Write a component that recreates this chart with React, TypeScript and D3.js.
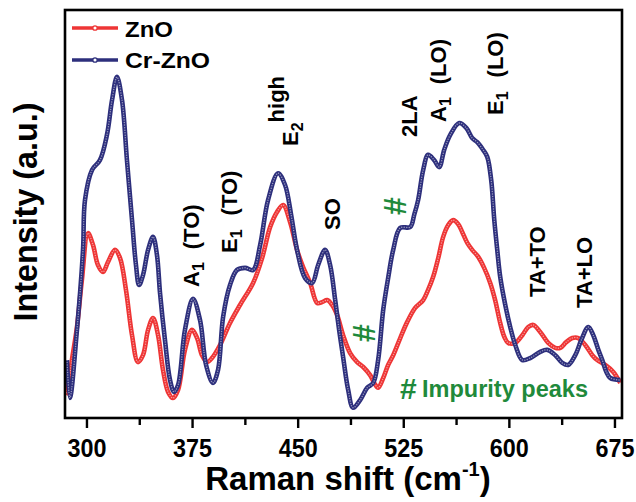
import React from "react";
import * as d3 from "d3";

const znoShift = [285.1, 286.5, 289.3, 292.9, 296.4, 300.7, 304.3, 307.8, 311.4, 314.9, 319.9, 323.5, 327.7, 332.0, 336.2, 339.8, 343.4, 346.9, 350.5, 354.0, 357.6, 361.1, 364.7, 369.6, 374.6, 378.2, 381.7, 385.3, 388.8, 394.5, 401.6, 408.7, 418.0, 424.4, 430.1, 435.0, 439.3, 444.3, 449.2, 453.5, 458.5, 463.5, 467.0, 470.6, 474.1, 477.7, 481.9, 486.9, 491.9, 496.2, 501.1, 504.0, 506.8, 510.4, 513.9, 517.5, 522.5, 527.4, 533.1, 538.8, 542.3, 545.9, 549.5, 553.0, 556.6, 560.1, 563.7, 566.5, 570.1, 573.6, 577.9, 582.1, 586.4, 589.9, 593.5, 596.4, 599.2, 604.2, 609.2, 613.4, 617.0, 621.9, 627.6, 632.6, 636.2, 640.4, 644.7, 648.9, 653.9, 658.9, 662.4, 668.1, 673.8, 678.8];
const znoIntensity = [5.6, 7.4, 14.2, 22.3, 33.8, 45.3, 42.4, 37.5, 35.8, 38.2, 41.2, 39.2, 31.4, 20.3, 13.7, 15.4, 21.6, 24.5, 20.3, 11.8, 6.4, 4.9, 6.9, 16.7, 21.6, 19.6, 15.4, 13.7, 14.7, 17.9, 23.3, 27.7, 33.1, 39.2, 46.8, 50.5, 52.2, 48.0, 41.2, 37.0, 33.1, 28.2, 28.4, 28.9, 27.7, 25.2, 20.3, 15.9, 13.7, 12.5, 10.5, 8.6, 7.4, 9.8, 13.0, 15.4, 19.6, 23.5, 27.0, 28.9, 31.4, 34.6, 39.2, 44.4, 47.3, 48.5, 47.5, 45.6, 42.9, 41.2, 39.5, 36.8, 33.1, 28.9, 23.3, 19.9, 18.4, 18.4, 20.3, 22.3, 22.8, 21.1, 18.4, 17.2, 17.2, 18.6, 19.6, 19.6, 17.9, 15.4, 14.2, 13.0, 11.3, 8.6];

const crShift = [285.8, 287.9, 292.9, 297.2, 298.6, 303.6, 309.2, 314.2, 317.8, 321.3, 324.9, 328.4, 332.0, 334.8, 337.0, 339.8, 343.4, 346.9, 349.7, 351.9, 355.4, 359.0, 361.8, 364.7, 369.6, 375.3, 380.3, 384.6, 389.5, 393.1, 396.7, 401.6, 406.6, 412.3, 418.0, 423.0, 428.6, 435.7, 440.7, 445.0, 449.2, 454.9, 459.9, 464.2, 469.1, 472.7, 476.3, 479.1, 481.9, 485.5, 489.0, 494.0, 499.0, 503.3, 506.8, 510.4, 513.9, 517.5, 522.5, 529.6, 532.4, 535.2, 538.8, 542.3, 546.6, 550.2, 553.7, 558.0, 564.4, 569.4, 573.6, 577.2, 581.4, 584.3, 587.1, 589.3, 591.4, 593.5, 597.1, 600.6, 604.2, 609.2, 614.8, 621.9, 626.9, 632.6, 637.6, 641.8, 646.8, 651.1, 656.1, 659.6, 663.2, 666.0, 668.9, 671.7, 678.8];
const crIntensity = [14.2, 4.9, 21.6, 41.2, 53.4, 60.8, 63.2, 69.4, 77.9, 83.6, 77.9, 63.2, 48.5, 37.5, 32.6, 35.0, 41.2, 44.4, 40.0, 30.6, 19.1, 9.3, 6.4, 8.1, 21.6, 29.2, 24.0, 13.0, 8.6, 11.8, 24.8, 32.6, 36.3, 36.8, 36.3, 42.4, 53.4, 60.0, 57.1, 49.8, 41.2, 34.3, 33.1, 37.5, 41.2, 37.5, 28.9, 21.6, 15.0, 6.9, 2.5, 4.4, 7.4, 8.6, 14.2, 26.5, 34.3, 41.2, 46.6, 46.8, 49.8, 53.4, 60.8, 64.5, 63.2, 61.5, 65.7, 69.4, 72.3, 71.1, 68.6, 67.6, 65.7, 64.0, 58.3, 48.5, 41.2, 34.6, 27.7, 22.3, 17.9, 14.2, 14.7, 16.2, 16.7, 15.4, 13.5, 13.0, 15.4, 19.1, 22.3, 20.3, 16.7, 14.2, 11.3, 9.8, 9.3];

const majorTicks = [300, 375, 450, 525, 600, 675];
const minorTicks = [337.5, 412.5, 487.5, 562.5, 637.5];
const seriesNames = ["ZnO", "Cr-ZnO"];
const seriesColors = ["#ee3535", "#2d2f7c"];

const FONT = "Arial, 'Liberation Sans', sans-serif";

type Part = { t: string; sub?: boolean; sup?: boolean; dx?: number };

function VLabel({ x, y, parts, size = 22 }: { x: number; y: number; parts: Part[]; size?: number }) {
  let shift = 0;
  return (
    <text transform={`translate(${x},${y}) rotate(-90)`} fontFamily={FONT} fontWeight="bold" fontSize={size} fill="#000">
      {parts.map((p, i) => {
        const target = p.sub ? 5 : p.sup ? -14 : 0;
        const dy = target - shift;
        shift = target;
        return (
          <tspan key={i} dy={dy} dx={p.dx || 0} fontSize={p.sub ? 16 : size}>
            {p.t}
          </tspan>
        );
      })}
    </text>
  );
}

export default function App() {
  const W = 636, H = 502;
  const left = 65, right = 622, top = 10, bottom = 418;
  const x = d3.scaleLinear().domain([284.4, 680]).range([left, right]);
  const y = d3.scaleLinear().domain([0, 100]).range([bottom, top]);
  const line = d3
    .line<[number, number]>()
    .x((d) => x(d[0]))
    .y((d) => y(d[1]))
    .curve(d3.curveCatmullRom.alpha(0.5));
  const series = [
    znoShift.map((s, i) => [s, znoIntensity[i]] as [number, number]),
    crShift.map((s, i) => [s, crIntensity[i]] as [number, number]),
  ];

  return (
    <svg width={W} height={H} style={{ position: "fixed", left: 0, top: 0, background: "#fff" }}>
      <defs>
        <clipPath id="plot">
          <rect x={left} y={top} width={right - left} height={bottom - top} />
        </clipPath>
      </defs>
      <rect x={0} y={0} width={W} height={H} fill="#fff" />
      <g clipPath="url(#plot)">
        {series.map((data, k) => (
          <g key={k}>
            <path d={line(data) || ""} fill="none" stroke={seriesColors[k]} strokeWidth={4.6} strokeLinejoin="round" />
            <path
              d={line(data) || ""}
              fill="none"
              stroke="rgba(255,255,255,0.5)"
              strokeWidth={1.5}
              strokeDasharray="0 2.5"
              strokeLinecap="round"
            />
          </g>
        ))}
      </g>
      <rect x={left} y={top} width={right - left} height={bottom - top} fill="none" stroke="#000" strokeWidth={2.6} />
      {majorTicks.map((t) => (
        <g key={t}>
          <line x1={x(t)} x2={x(t)} y1={bottom} y2={bottom + 10} stroke="#000" strokeWidth={2.4} />
          <text x={x(t)} y={457} textAnchor="middle" fontFamily={FONT} fontWeight="bold" fontSize={25} textLength={39} lengthAdjust="spacingAndGlyphs">
            {t}
          </text>
        </g>
      ))}
      {minorTicks.map((t) => (
        <line key={t} x1={x(t)} x2={x(t)} y1={bottom} y2={bottom + 7} stroke="#000" strokeWidth={2.4} />
      ))}
      <text x={348} y={490} textAnchor="middle" fontFamily={FONT} fontWeight="bold" fontSize={33}>
        Raman shift (cm
        <tspan fontSize={20} dy={-14}>-1</tspan>
        <tspan dy={14}>)</tspan>
      </text>
      <text transform="translate(37,212) rotate(-90)" textAnchor="middle" fontFamily={FONT} fontWeight="bold" fontSize={33} textLength={219} lengthAdjust="spacingAndGlyphs">
        Intensity (a.u.)
      </text>
      {seriesNames.map((n, i) => (
        <g key={n}>
          <line x1={72} x2={118} y1={28 + i * 32} y2={28 + i * 32} stroke={seriesColors[i]} strokeWidth={3.5} />
          <circle cx={95} cy={28 + i * 32} r={2.2} fill="#fff" stroke={seriesColors[i]} strokeWidth={1.3} />
          <text x={125} y={37 + i * 31} fontFamily={FONT} fontWeight="bold" fontSize={22} textLength={i === 0 ? 48 : 85} lengthAdjust="spacingAndGlyphs">
            {n}
          </text>
        </g>
      ))}
      <VLabel x={199} y={287} parts={[{ t: "A" }, { t: "1", sub: true }, { t: "(TO)", dx: 13 }]} />
      <VLabel x={237} y={253} parts={[{ t: "E" }, { t: "1", sub: true }, { t: "(TO)", dx: 14 }]} />
      <VLabel x={298} y={146} parts={[{ t: "E" }, { t: "2", sub: true }, { t: "high", sup: true }]} />
      <VLabel x={340} y={230} parts={[{ t: "SO" }]} />
      <VLabel x={417} y={137} parts={[{ t: "2LA" }]} />
      <VLabel x={446} y={122} parts={[{ t: "A" }, { t: "1", sub: true }, { t: "(LO)", dx: 13 }]} />
      <VLabel x={503} y={115} parts={[{ t: "E" }, { t: "1", sub: true }, { t: "(LO)", dx: 14 }]} />
      <VLabel x={545} y={297} parts={[{ t: "TA+TO" }]} />
      <VLabel x={592} y={308} parts={[{ t: "TA+LO" }]} />
      <text transform="translate(395,206) rotate(-90)" textAnchor="middle" dominantBaseline="central" fontFamily={FONT} fontWeight="bold" fontSize={32} fill="#1f8a3b">#</text>
      <text transform="translate(364,333) rotate(-90)" textAnchor="middle" dominantBaseline="central" fontFamily={FONT} fontWeight="bold" fontSize={32} fill="#1f8a3b">#</text>
      <text x={400} y={399} fontFamily={FONT} fontWeight="bold" fontSize={30} fill="#1f8a3b">#</text>
      <text x={422} y={397} fontFamily={FONT} fontWeight="bold" fontSize={23} fill="#1f8a3b" textLength={166} lengthAdjust="spacingAndGlyphs">
        Impurity peaks
      </text>
    </svg>
  );
}
